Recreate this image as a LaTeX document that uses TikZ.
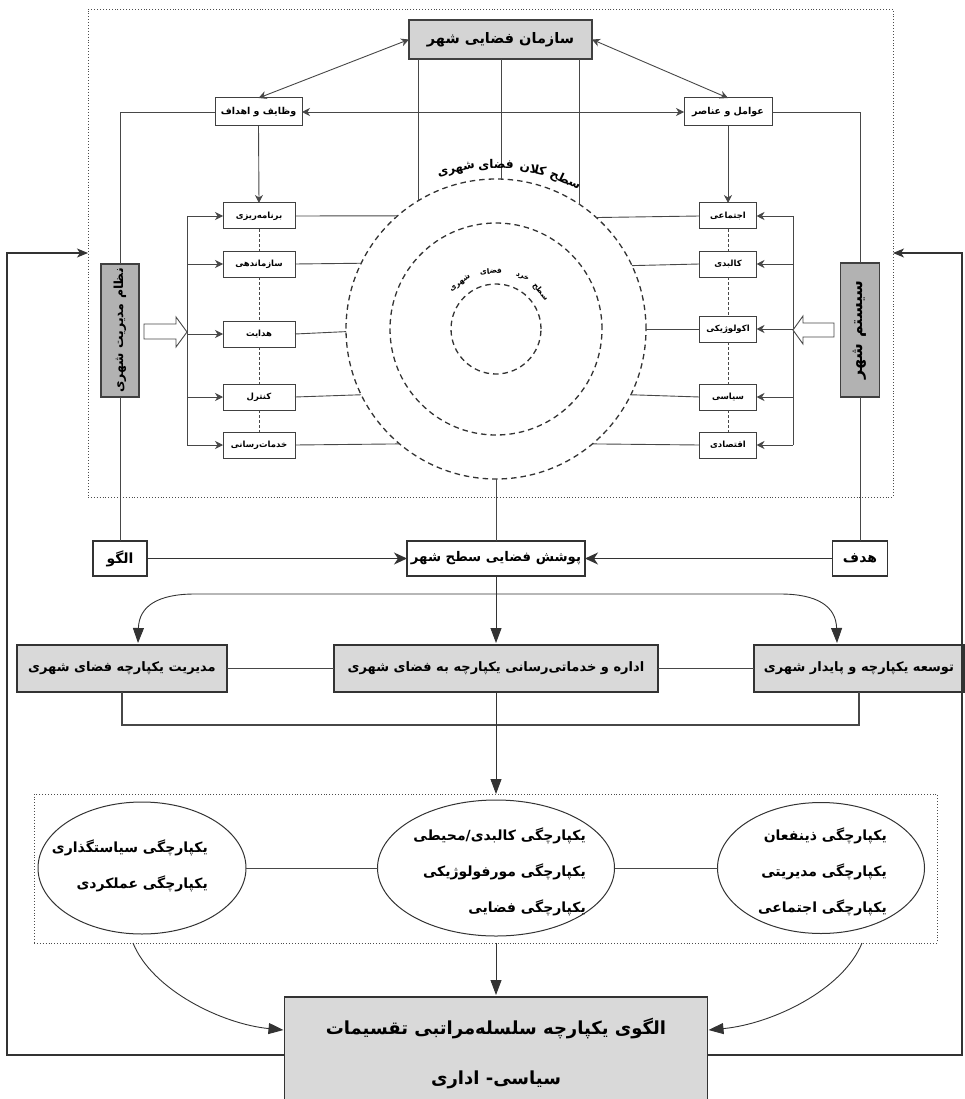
\documentclass[tikz,border=0pt]{standalone}
\usepackage{fontspec}
\usetikzlibrary{arrows.meta,calc,shapes.geometric}
\TeXXeTstate=1
\newfontfamily\persian[Script=Arabic]{DejaVu Sans}
\newcommand{\R}[1]{\beginR #1\endR}
\newcommand{\zw}{\char"200C\relax}
\newcommand{\fs}[1]{\persian\bfseries\fontsize{#1}{#1}\selectfont}
\tikzset{
  ln/.style={draw=black!72, line width=0.9pt},
  sarr/.style={ln, -{Stealth[length=8pt,width=8pt,inset=2.5pt]}},
  dsarr/.style={ln, {Stealth[length=8pt,width=8pt,inset=2.5pt]}-{Stealth[length=8pt,width=8pt,inset=2.5pt]}},
  marr/.style={draw=black!80, line width=1.1pt, -{Stealth[length=13pt,width=12pt,inset=4pt]}},
  barr/.style={draw=black!80, line width=0.9pt, -{Triangle[length=15pt,width=11pt]}},
  dbarr/.style={draw=black!80, line width=0.9pt, {Triangle[length=15pt,width=11pt]}-{Triangle[length=15pt,width=11pt]}},
  loopln/.style={draw=black!80, line width=1.1pt, -{Stealth[length=11pt,width=9pt,inset=3pt]}},
  dotbox/.style={draw=black!70, dotted, line width=0.9pt, inner sep=0pt, outer sep=0pt},
  fbox/.style={draw=black!75, line width=1pt, fill=white, inner sep=0pt, outer sep=0pt, font=\fs{8.5}},
  wbox/.style={draw=black!80, line width=1.1pt, fill=white, inner sep=0pt, outer sep=0pt, font=\fs{14}},
  tbox/.style={draw=black!75, line width=1.2pt, fill=black!17, inner sep=0pt, outer sep=0pt, font=\fs{14.5}},
  vbox/.style={draw=black!75, line width=1.1pt, fill=black!30, inner sep=0pt, outer sep=0pt, rotate=90},
  gbox/.style={draw=black!80, line width=1.2pt, fill=black!15, inner sep=0pt, outer sep=0pt, font=\fs{13}},
  dcirc/.style={circle, draw=black!80, dashed, dash pattern=on 5.5pt off 4pt, line width=1.3pt, inner sep=0pt, outer sep=0pt},
  helper/.style={circle, inner sep=0pt, outer sep=0pt},
  ell/.style={ellipse, draw=black!80, line width=1pt, inner sep=0pt, outer sep=0pt},
  etxt/.style={align=right, inner sep=0pt, font=\persian\bfseries\fontsize{14}{36}\selectfont},
  clbl/.style={inner sep=0pt, font=\fs{12}},
  slbl/.style={inner sep=0pt, font=\fs{7.5}},
}
\begin{document}
\begin{tikzpicture}[x=1pt,y=-1pt]
\useasboundingbox (0,0) rectangle (965,1099);
\clip (0,0) rectangle (965,1099);

% outer dotted frame
\node[dotbox, minimum width=805pt, minimum height=488pt] (outer) at (490.5,253) {};

% title
\node[tbox, minimum width=183pt, minimum height=39pt] (title) at (500.5,39.5) {\R{سازمان فضایی شهر}};
\node[fbox, font=\fs{9.5}, minimum width=87pt, minimum height=28pt] (vz) at (258.5,112) {\R{وظایف و اهداف}};
\node[fbox, font=\fs{9.5}, minimum width=88pt, minimum height=28pt] (av) at (728,112) {\R{عوامل و عناصر}};
\draw[dsarr] (title.west) -- (vz.north);
\draw[dsarr] (title.east) -- (av.north);
\draw[dsarr] (vz.east) -- (av.west);

% circles
\coordinate (C) at (496,329);
\node[dcirc, minimum size=300pt] (big) at (C) {};
\node[dcirc, minimum size=212pt] (mid) at (C) {};
\node[dcirc, minimum size=90pt] (sml) at (C) {};
\node[helper, minimum size=328pt] (bigtxt) at (C) {};
\node[helper, minimum size=116pt] (smltxt) at (C) {};

\draw[ln] (title.south -| big.121.3) -- (big.121.3);
\draw[ln] (title.south -| big.88.5) -- (big.88.5);
\draw[ln] (title.south -| big.56.9) -- (big.56.9);

\node[clbl, rotate=-25] (w1) at (bigtxt.65) {\R{سطح}};
\node[clbl, rotate=-12.5] (w2) at (bigtxt.77.5) {\R{کلان}};
\node[clbl, rotate=0.5] (w3) at (bigtxt.90.5) {\R{فضای}};
\node[clbl, rotate=14] (w4) at (bigtxt.104) {\R{شهری}};

\node[slbl, rotate=-50] (s1) at (smltxt.40) {\R{سطح}};
\node[slbl, rotate=-27] (s2) at (smltxt.63) {\R{خرد}};
\node[slbl, rotate=5] (s3) at (smltxt.95) {\R{فضای}};
\node[slbl, rotate=36] (s4) at (smltxt.128) {\R{شهری}};

% left function boxes
\node[fbox, minimum width=72pt, minimum height=26pt] (f1) at (259,216) {\R{برنامه\zw ریزی}};
\node[fbox, minimum width=72pt, minimum height=26pt] (f2) at (259,264) {\R{سازماندهی}};
\node[fbox, minimum width=72pt, minimum height=26pt] (f3) at (259,334) {\R{هدایت}};
\node[fbox, minimum width=72pt, minimum height=26pt] (f4) at (259,397) {\R{کنترل}};
\node[fbox, minimum width=72pt, minimum height=26pt] (f5) at (259,445) {\R{خدمات\zw رسانی}};
% right boxes
\node[fbox, minimum width=57pt, minimum height=26pt] (r1) at (728,216) {\R{اجتماعی}};
\node[fbox, minimum width=57pt, minimum height=26pt] (r2) at (728,264) {\R{کالبدی}};
\node[fbox, minimum width=57pt, minimum height=26pt] (r3) at (728,329) {\R{اکولوژیکی}};
\node[fbox, minimum width=57pt, minimum height=26pt] (r4) at (728,397) {\R{سیاسی}};
\node[fbox, minimum width=57pt, minimum height=26pt] (r5) at (728,445) {\R{اقتصادی}};

\draw[sarr] (vz.south) -- (f1.north);
\draw[sarr] (av.south) -- (r1.north);
\foreach \a/\b in {1/2,2/3,3/4,4/5}{
  \draw[ln, dashed, dash pattern=on 3pt off 2pt] (f\a.south) -- (f\b.north);
  \draw[ln, dashed, dash pattern=on 3pt off 2pt] (r\a.south) -- (r\b.north);
}
\coordinate (lb) at (187,0);
\coordinate (rb) at (793,0);
\draw[ln] (f1.west -| lb) -- (f5.west -| lb);
\draw[ln] (r1.east -| rb) -- (r5.east -| rb);
\foreach \i in {1,...,5}{
  \draw[sarr] (f\i.west -| lb) -- (f\i.west);
  \draw[sarr] (r\i.east -| rb) -- (r\i.east);
}
% lines to big circle
\draw[ln] (f1.east) -- (big.131.12);
\draw[ln] (f2.east) -- (big.154.32);
\draw[ln] (f3.east) -- (big.181.91);
\draw[ln] (f4.east) -- (big.206.96);
\draw[ln] (f5.east) -- (big.230.66);
\draw[ln] (r1.west) -- (big.48.88);
\draw[ln] (r2.west) -- (big.25.68);
\draw[ln] (r3.west) -- (big.0);
\draw[ln] (r4.west) -- (big.-26.96);
\draw[ln] (r5.west) -- (big.-50.66);

% vertical side boxes
\node[vbox, font=\fs{12.5}, minimum width=133pt, minimum height=38pt] (nz) at (120,330.5) {\R{نظام مدیریت شهری}};
\node[vbox, font=\fs{16}, minimum width=134pt, minimum height=39pt] (ss) at (860,330) {\R{سیستم شهر}};
\draw[ln] (vz.west) -| (nz.east);
\draw[ln] (av.east) -| (ss.east);

% hollow arrows
\draw[ln, fill=white] (144,324) -- (176,324) -- (176,317) -- (187,332) -- (176,347) -- (176,339) -- (144,339) -- cycle;
\draw[ln, fill=white] (834,323) -- (803,323) -- (803,316) -- (793,330) -- (803,344) -- (803,337) -- (834,337) -- cycle;

% middle row
\node[wbox, minimum width=54pt, minimum height=35pt] (algo) at (120,558.5) {\R{الگو}};
\node[wbox, font=\fs{13.3}, minimum width=178pt, minimum height=35pt] (pos) at (496,558.5) {\R{پوشش فضایی سطح شهر}};
\node[wbox, minimum width=55pt, minimum height=35pt] (hd) at (860,558.5) {\R{هدف}};
\draw[ln] (nz.west) -- (algo.north);
\draw[ln] (ss.west) -- (hd.north);
\draw[ln] (big.south) -- (pos.north);
\draw[marr] (algo.east) -- (pos.west);
\draw[marr] (hd.west) -- (pos.east);

% gray boxes
\node[gbox, minimum width=210pt, minimum height=47pt] (mg) at (122,668.5) {\R{مدیریت یکپارچه فضای شهری}};
\node[gbox, minimum width=324pt, minimum height=47pt] (ad) at (496,668.5) {\R{اداره و خدماتی\zw رسانی یکپارچه به فضای شهری}};
\node[gbox, minimum width=210pt, minimum height=47pt] (ts) at (859,668.5) {\R{توسعه یکپارچه و پایدار شهری}};
\draw[ln] (mg.east) -- (ad.west);
\draw[ln] (ad.east) -- (ts.west);
\draw[barr, shorten >=2pt] (pos.south) -- (ad.north);
\coordinate (cl) at ($(mg.north)+(16,-2)$);
\coordinate (cr) at ($(ts.north)+(-22,-2)$);
\draw[dbarr] (cl) .. controls (139,606) and (158,594) .. (195,594) -- (780,594) .. controls (817,594) and (836,606) .. (cr);
\coordinate (brk) at (496,725);
\draw[ln, line width=1.1pt] (mg.south) |- (brk) -| (ts.south);

% lower dotted box with ellipses
\node[dotbox, minimum width=903pt, minimum height=149pt] (box2) at (485.5,868.5) {};
\draw[barr] (ad.south) -- (ad.south |- box2.north);
\node[ell, minimum width=208pt, minimum height=132pt] (e1) at (142,868) {};
\node[ell, minimum width=237pt, minimum height=136pt] (e2) at (496,868) {};
\node[ell, minimum width=207pt, minimum height=131pt] (e3) at (821,868) {};
\draw[ln] (e1.east) -- (e2.west);
\draw[ln] (e2.east) -- (e3.west);
\node[etxt, anchor=east] (t1) at (208,866) {\R{یکپارچگی سیاستگذاری}\\\R{یکپارچگی عملکردی}};
\node[etxt, anchor=east] (t2) at (586,872) {\R{یکپارچگی کالبدی/محیطی}\\\R{یکپارچگی مورفولوژیکی}\\\R{یکپارچگی فضایی}};
\node[etxt, anchor=east] (t3) at (887,872) {\R{یکپارچگی ذینفعان}\\\R{یکپارچگی مدیریتی}\\\R{یکپارچگی اجتماعی}};

% bottom box
\node[gbox, minimum width=423pt, minimum height=116pt] (bb) at (496,1055) {};
\node[inner sep=0pt, font=\fs{18}] (bt1) at (496,1028) {\R{الگوی یکپارچه سلسله\zw مراتبی تقسیمات}};
\node[inner sep=0pt, font=\fs{18}] (bt2) at (496,1080) {\R{سیاسی- اداری}};
\draw[barr, shorten >=2pt] (bb.north |- box2.south) -- (bb.north);
\draw[barr] ($(box2.south west)+(99,0)$) .. controls (152,990) and (222,1024) .. ($(bb.west)+(-1,-25)$);
\draw[barr] ($(box2.south east)+(-75,0)$) .. controls (843,990) and (772,1024) .. ($(bb.east)+(1,-25)$);

% feedback loops
\coordinate (lx) at (7,0);
\coordinate (rx) at (962,0);
\draw[loopln] (bb.west) -- (bb.west -| lx) |- (outer.west);
\draw[loopln] (bb.east) -- (bb.east -| rx) |- (outer.east);
\end{tikzpicture}
\end{document}
